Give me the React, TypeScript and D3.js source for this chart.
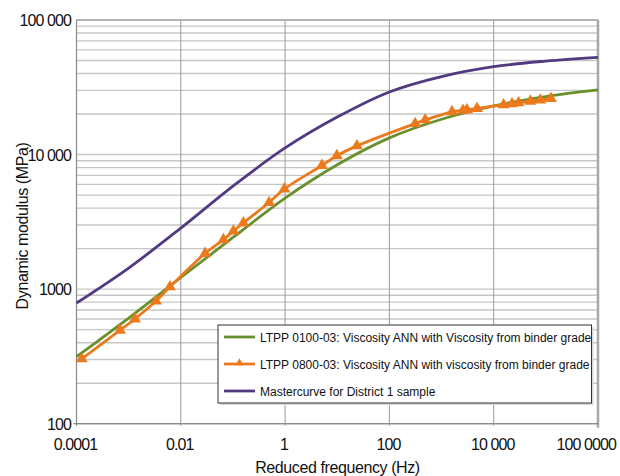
import React from "react";
import * as d3 from "d3";

const W = 620;
const H = 476;

// Green: LTPP 0100-03
const greenFreq = [1e-4, 1e-3, 1e-2, 1e-1, 1, 10, 100, 1000, 1e4, 1e5, 1e6];
const greenMod = [315, 610, 1220, 2420, 4750, 8400, 13300, 18300, 23000, 27000, 30200];

// Orange: LTPP 0800-03 (with markers)
const orangeFreq = [
  1.26e-4, 6.84e-4, 1.32e-3, 3.35e-3, 6.2e-3, 0.0292, 0.0656, 0.102, 0.158, 0.493, 0.97,
  5.07, 9.82, 23.8, 312, 486, 1585, 2580, 3075, 4790, 15500, 22400, 30000, 50300, 78200, 125000,
];
const orangeMod = [
  303, 495, 600, 815, 1040, 1840, 2330, 2700, 3100, 4400, 5550,
  8300, 9800, 11600, 17000, 18100, 20800, 21300, 21500, 22000, 23400, 23800, 24200, 24900, 25400, 26100,
];

// Purple: Mastercurve for District 1 sample
const purpleFreq = [1e-4, 1e-3, 1e-2, 1e-1, 1, 10, 100, 1000, 1e4, 1e5, 1e6];
const purpleMod = [789, 1435, 2840, 5830, 11200, 19000, 29200, 38000, 45000, 49500, 52800];

const xTickVals = [1e-4, 1e-2, 1, 100, 1e4, 1e6];
const xTickLabels = ["0.0001", "0.01", "1", "100", "10 000", "100 0000"];
const yTickVals = [100, 1000, 10000, 100000];
const yTickLabels = ["100", "1000", "10 000", "100 000"];

const legendLabels = [
  "LTPP 0100-03: Viscosity ANN with Viscosity from binder grade",
  "LTPP 0800-03: Viscosity ANN with viscosity from binder grade",
  "Mastercurve for District 1 sample",
];

const GREEN = "#68902c";
const ORANGE = "#ec7a1c";
const PURPLE = "#523a80";
const FONT = "'Liberation Sans', Arial, sans-serif";

export default function App() {
  const left = 76.5, right = 598, top = 20, bottom = 423.7;
  const x = d3.scaleLog().domain([1e-4, 1e6]).range([left, right]);
  const y = d3.scaleLog().domain([100, 100000]).range([bottom, top]);

  const line = d3
    .line<[number, number]>()
    .x((d) => x(d[0]))
    .y((d) => y(d[1]))
    .curve(d3.curveCatmullRom.alpha(0.5));

  const green: [number, number][] = greenFreq.map((f, i) => [f, greenMod[i]]);
  const orange: [number, number][] = orangeFreq.map((f, i) => [f, orangeMod[i]]);
  const purple: [number, number][] = purpleFreq.map((f, i) => [f, purpleMod[i]]);

  const hGrid: number[] = [];
  [100, 1000, 10000].forEach((d) => {
    for (let k = 1; k <= 9; k++) hGrid.push(d * k);
  });
  hGrid.push(100000);

  const tri = d3.symbol().type(d3.symbolTriangle).size(62)() as string;
  const triSmall = d3.symbol().type(d3.symbolTriangle).size(28)() as string;

  const lgX = 218, lgY = 325, lgW = 373.5, lgH = 78;
  const lgRows = [337, 364, 391];
  const lgColors = [GREEN, ORANGE, PURPLE];

  return (
    <svg
      width={W}
      height={H}
      style={{ position: "absolute", left: 0, top: 0, background: "#fff" }}
      fontFamily={FONT}
    >
      <rect x={0} y={0} width={W} height={H} fill="#fff" />
      {/* horizontal grid */}
      {hGrid.map((v, i) => (
        <line
          key={"h" + i}
          x1={left}
          x2={right}
          y1={y(v)}
          y2={y(v)}
          stroke="#c6c6c6"
          strokeWidth={1.4}
        />
      ))}
      {/* vertical grid */}
      {xTickVals.map((v, i) => (
        <line
          key={"v" + i}
          x1={x(v)}
          x2={x(v)}
          y1={top}
          y2={bottom + 2}
          stroke="#9a9a9a"
          strokeWidth={1}
        />
      ))}
      {/* borders */}
      <line x1={left} x2={right} y1={top} y2={top} stroke="#a8a8a8" strokeWidth={1.5} />
      <line x1={right} x2={right} y1={top} y2={bottom + 4} stroke="#a8a8a8" strokeWidth={2.5} />
      <line x1={left} x2={left} y1={top} y2={bottom + 2} stroke="#8a8a8a" strokeWidth={1.2} />
      <line x1={left - 3} x2={right} y1={bottom} y2={bottom} stroke="#8a8a8a" strokeWidth={1.2} />

      {/* y tick labels */}
      {yTickVals.map((v, i) => (
        <text
          key={"yl" + i}
          x={71}
          y={y(v) + 6}
          textAnchor="end"
          fontSize={16}
          letterSpacing={-0.9}
          fill="#111"
        >
          {yTickLabels[i]}
        </text>
      ))}
      {/* x tick labels */}
      {xTickVals.map((v, i) => {
        const last = i === xTickVals.length - 1;
        return (
          <text
            key={"xl" + i}
            x={last ? 616 : x(v) - 1}
            y={450}
            textAnchor={last ? "end" : "middle"}
            fontSize={16}
            letterSpacing={-0.9}
            fill="#111"
          >
            {xTickLabels[i]}
          </text>
        );
      })}

      {/* axis titles */}
      <text x={337.5} y={473} textAnchor="middle" fontSize={16} letterSpacing={-0.4} fill="#111">
        Reduced frequency (Hz)
      </text>
      <text
        transform={`translate(28,226) rotate(-90)`}
        textAnchor="middle"
        fontSize={16}
        letterSpacing={-0.4}
        fill="#111"
      >
        Dynamic modulus (MPa)
      </text>

      {/* series */}
      <path d={line(purple) || ""} fill="none" stroke={PURPLE} strokeWidth={2.8} />
      <path d={line(green) || ""} fill="none" stroke={GREEN} strokeWidth={2.8} />
      <path d={line(orange) || ""} fill="none" stroke={ORANGE} strokeWidth={2.8} />
      {orange.map((d, i) => (
        <path
          key={"m" + i}
          d={tri}
          transform={`translate(${x(d[0])},${y(d[1])})`}
          fill={ORANGE}
        />
      ))}

      {/* legend */}
      <rect x={lgX + 2} y={lgY + 2} width={lgW} height={lgH} fill="#d8d8d8" />
      <rect x={lgX} y={lgY} width={lgW} height={lgH} fill="#fff" stroke="#333" strokeWidth={1} />
      {legendLabels.map((lab, i) => (
        <g key={"lg" + i}>
          <line
            x1={224}
            x2={255}
            y1={lgRows[i]}
            y2={lgRows[i]}
            stroke={lgColors[i]}
            strokeWidth={2.8}
          />
          {i === 1 && (
            <path d={triSmall} transform={`translate(239.5,${lgRows[i] - 1})`} fill={ORANGE} />
          )}
          <text x={260} y={lgRows[i] + 4.5} fontSize={12} fill="#111">
            {lab}
          </text>
        </g>
      ))}
    </svg>
  );
}
